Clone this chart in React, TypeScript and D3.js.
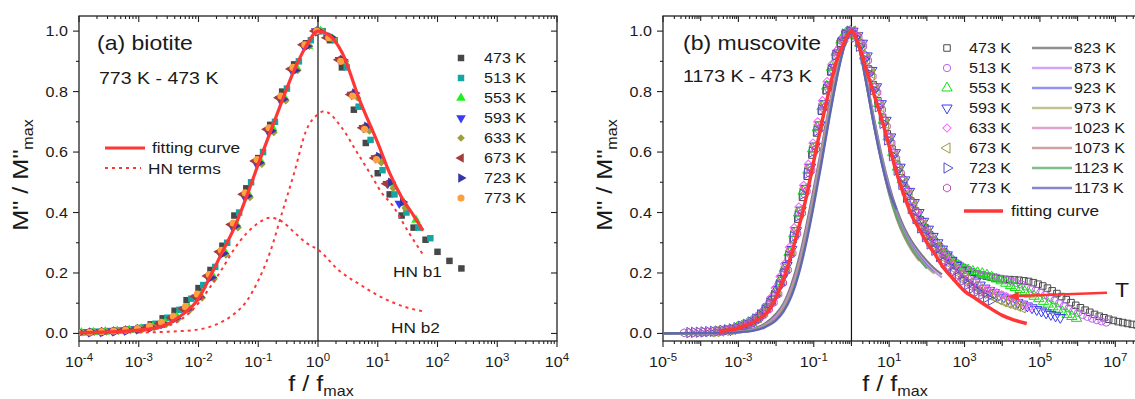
import React from 'react';
import * as d3 from 'd3';

const SX = 1.15;
const FONT = '"Liberation Sans", Arial, Helvetica, sans-serif';
const INK = '#1a1a1a';
const RED = '#FF3636';

// ---------------- shared axis data
const Y_MAJOR = [0, 0.2, 0.4, 0.6, 0.8, 1.0];
const Y_LABELS = ['0.0', '0.2', '0.4', '0.6', '0.8', '1.0'];
const Y_MINOR = [0.1, 0.3, 0.5, 0.7, 0.9];

// ---------------- panel (a) biotite
const A_DECADES = [-4, -3, -2, -1, 0, 1, 2, 3, 4];
const A_LABELED = [-4, -3, -2, -1, 0, 1, 2, 3, 4];
const A_TEMPS = ['473 K', '513 K', '553 K', '593 K', '633 K', '673 K', '723 K', '773 K'];
const A_COLORS = ['#474747', '#14A5A5', '#1EF01E', '#3B3BF5', '#9E9E3C', '#A53C3C', '#3535A8', '#FFA040'];
const A_SHAPES = ['square', 'square', 'triUp', 'triDown', 'diamond', 'triLeft', 'triRight', 'circle'];
// measurement grid, log10(f/fmax) before per-temperature shift
const A_GRID = [-4.0, -3.8, -3.6, -3.4, -3.2, -3.0, -2.8, -2.6, -2.4, -2.2, -2.0, -1.8, -1.6, -1.4, -1.2, -1.0, -0.8, -0.6, -0.4, -0.2, 0.0, 0.2, 0.4, 0.6, 0.8, 1.0, 1.2, 1.4, 1.6, 1.8, 2.0, 2.2, 2.4];
const A_SHIFT = [0, 0.08, 0.04, -0.04, 0.06, -0.06, 0.02, -0.02];
const A_473 = [0.004, 0.005, 0.007, 0.009, 0.013, 0.018, 0.03, 0.05, 0.075, 0.11, 0.15, 0.21, 0.29, 0.39, 0.48, 0.58, 0.69, 0.80, 0.89, 0.96, 1.0, 0.97, 0.88, 0.74, 0.63, 0.53, 0.46, 0.39, 0.35, 0.31, 0.27, 0.24, 0.215];
const A_513 = [0.004, 0.006, 0.008, 0.01, 0.014, 0.02, 0.032, 0.052, 0.078, 0.115, 0.16, 0.22, 0.3, 0.4, 0.5, 0.6, 0.7, 0.81, 0.9, 0.97, 1.0, 0.97, 0.88, 0.75, 0.64, 0.54, 0.46, 0.40, 0.35, 0.315];
const A_553 = [0.003, 0.004, 0.006, 0.008, 0.011, 0.015, 0.022, 0.035, 0.055, 0.085, 0.125, 0.19, 0.27, 0.36, 0.46, 0.57, 0.68, 0.78, 0.88, 0.95, 1.0, 0.975, 0.9, 0.785, 0.68, 0.58, 0.495, 0.43, 0.375];
const A_593 = [0.003, 0.004, 0.005, 0.007, 0.01, 0.014, 0.02, 0.032, 0.05, 0.08, 0.12, 0.185, 0.265, 0.355, 0.455, 0.565, 0.67, 0.775, 0.87, 0.95, 1.0, 0.98, 0.905, 0.79, 0.68, 0.58, 0.495, 0.43];
const A_633 = [0.003, 0.004, 0.005, 0.007, 0.01, 0.013, 0.019, 0.03, 0.048, 0.078, 0.118, 0.18, 0.26, 0.35, 0.45, 0.56, 0.665, 0.77, 0.87, 0.95, 1.0, 0.975, 0.9, 0.78, 0.67, 0.565, 0.48, 0.415];
const A_673 = [0.003, 0.004, 0.006, 0.008, 0.011, 0.015, 0.021, 0.033, 0.052, 0.082, 0.122, 0.19, 0.27, 0.36, 0.46, 0.57, 0.675, 0.78, 0.875, 0.955, 1.0, 0.978, 0.905, 0.79, 0.68, 0.58, 0.495];
const A_723 = [0.003, 0.004, 0.005, 0.007, 0.01, 0.014, 0.02, 0.031, 0.05, 0.08, 0.12, 0.185, 0.265, 0.355, 0.455, 0.565, 0.67, 0.775, 0.87, 0.95, 1.0, 0.98, 0.905, 0.795, 0.685, 0.585, 0.5, 0.435];
const A_773 = [0.003, 0.004, 0.006, 0.008, 0.011, 0.016, 0.024, 0.037, 0.057, 0.088, 0.13, 0.195, 0.275, 0.365, 0.465, 0.575, 0.68, 0.785, 0.88, 0.955, 1.0, 0.978, 0.9, 0.785, 0.675, 0.575];
const A_SERIES = [A_473, A_513, A_553, A_593, A_633, A_673, A_723, A_773];

const A_FIT_LOG = [-4, -3.5, -3, -2.6, -2.3, -2.0, -1.8, -1.6, -1.4, -1.2, -1.0, -0.8, -0.6, -0.4, -0.2, 0, 0.2, 0.4, 0.7, 1.0, 1.2, 1.4, 1.6, 1.76];
const A_FIT_VAL = [0.002, 0.005, 0.011, 0.025, 0.058, 0.115, 0.19, 0.27, 0.35, 0.45, 0.56, 0.665, 0.77, 0.87, 0.95, 1.0, 0.985, 0.93, 0.77, 0.63, 0.53, 0.45, 0.39, 0.34];
const A_HN1_LOG = [-3.0, -2.5, -2.0, -1.7, -1.4, -1.2, -1.0, -0.8, -0.6, -0.4, -0.2, 0.0, 0.1, 0.4, 0.65, 0.9, 1.05, 1.26, 1.5, 1.76];
const A_HN1_VAL = [0.003, 0.006, 0.013, 0.03, 0.065, 0.105, 0.175, 0.27, 0.40, 0.53, 0.67, 0.725, 0.735, 0.68, 0.60, 0.52, 0.47, 0.42, 0.34, 0.26];
const A_HN2_LOG = [-4, -3.5, -3, -2.6, -2.3, -2.0, -1.8, -1.6, -1.4, -1.2, -1.0, -0.8, -0.6, -0.4, -0.2, 0, 0.37, 0.7, 1.04, 1.42, 1.76];
const A_HN2_VAL = [0.002, 0.004, 0.009, 0.02, 0.045, 0.10, 0.155, 0.215, 0.28, 0.33, 0.365, 0.383, 0.37, 0.335, 0.30, 0.277, 0.205, 0.162, 0.122, 0.09, 0.073];

// ---------------- panel (b) muscovite
const B_DECADES = [-5, -4, -3, -2, -1, 0, 1, 2, 3, 4, 5, 6, 7, 8];
const B_LABELED = [-5, -3, -1, 1, 3, 5, 7];
const B_TEMPS = ['473 K', '513 K', '553 K', '593 K', '633 K', '673 K', '723 K', '773 K'];
const B_COLORS = ['#4A4A4A', '#C060F0', '#10E010', '#3A3AF0', '#FF60FF', '#9A9A40', '#5050C0', '#C050B8'];
const B_SHAPES = ['square', 'circle', 'triUp', 'triDown', 'diamond', 'triLeft', 'triRight', 'hexagon'];
// measurement grid, log10(f/fmax) before per-temperature shift
const B_GRID = [
  -4.5, -4.375, -4.25, -4.125, -4, -3.875, -3.75, -3.625, -3.5, -3.375, -3.25, -3.125, -3, -2.875, -2.75, -2.625,
  -2.5, -2.375, -2.25, -2.125, -2, -1.875, -1.75, -1.625, -1.5, -1.375, -1.25, -1.125, -1, -0.875, -0.75, -0.625,
  -0.5, -0.375, -0.25, -0.125, 0, 0.125, 0.25, 0.375, 0.5, 0.625, 0.75, 0.875, 1, 1.125, 1.25, 1.375,
  1.5, 1.625, 1.75, 1.875, 2, 2.125, 2.25, 2.375, 2.5, 2.625, 2.75, 2.875, 3, 3.125, 3.25, 3.375,
  3.5, 3.625, 3.75, 3.875, 4, 4.125, 4.25, 4.375, 4.5, 4.625, 4.75, 4.875, 5, 5.125, 5.25, 5.375,
  5.5, 5.625, 5.75, 5.875, 6, 6.125, 6.25, 6.375, 6.5, 6.625, 6.75, 6.875, 7, 7.125, 7.25, 7.375,
  7.5, 7.625, 7.75,
];
const B_START = [16, 14, 12, 10, 8, 6, 2, 0];
const B_SHIFT = [-0.05, 0.01, -0.03, 0.04, -0.02, 0.03, -0.04, 0.06];
const B_473 = [0.045, 0.058, 0.075, 0.098, 0.125, 0.16, 0.2, 0.25, 0.31, 0.378, 0.45, 0.52, 0.59, 0.663, 0.735, 0.803, 0.865, 0.918, 0.96, 0.99, 1.0, 0.985, 0.96, 0.92, 0.875, 0.823, 0.77, 0.715, 0.66, 0.61, 0.56, 0.515, 0.475, 0.438, 0.405, 0.376, 0.35, 0.326, 0.305, 0.287, 0.27, 0.254, 0.24, 0.228, 0.218, 0.21, 0.203, 0.197, 0.193, 0.189, 0.186, 0.183, 0.181, 0.179, 0.178, 0.177, 0.176, 0.174, 0.172, 0.168, 0.163, 0.157, 0.15, 0.141, 0.132, 0.122, 0.112, 0.102, 0.093, 0.085, 0.077, 0.07, 0.063, 0.057, 0.052, 0.047, 0.043, 0.039, 0.036, 0.033, 0.03, 0.028, 0.026];
const B_513 = [0.03, 0.038, 0.048, 0.062, 0.08, 0.102, 0.13, 0.167, 0.21, 0.262, 0.32, 0.388, 0.46, 0.53, 0.6, 0.673, 0.745, 0.81, 0.87, 0.922, 0.965, 0.992, 1.0, 0.985, 0.96, 0.918, 0.87, 0.816, 0.76, 0.705, 0.65, 0.598, 0.55, 0.508, 0.47, 0.433, 0.4, 0.371, 0.345, 0.322, 0.3, 0.282, 0.265, 0.249, 0.235, 0.224, 0.215, 0.207, 0.2, 0.196, 0.192, 0.19, 0.187, 0.184, 0.18, 0.176, 0.172, 0.167, 0.162, 0.155, 0.148, 0.142, 0.135, 0.127, 0.118, 0.109, 0.1, 0.091, 0.083, 0.075, 0.068, 0.061, 0.055, 0.049, 0.044, 0.04, 0.036];
const B_553 = [0.02, 0.025, 0.03, 0.039, 0.05, 0.064, 0.082, 0.105, 0.135, 0.172, 0.215, 0.268, 0.33, 0.398, 0.47, 0.54, 0.61, 0.68, 0.75, 0.818, 0.88, 0.93, 0.97, 0.993, 1.0, 0.985, 0.96, 0.918, 0.87, 0.816, 0.76, 0.705, 0.65, 0.598, 0.55, 0.508, 0.47, 0.433, 0.4, 0.371, 0.345, 0.322, 0.3, 0.282, 0.265, 0.249, 0.235, 0.224, 0.215, 0.21, 0.205, 0.201, 0.198, 0.193, 0.186, 0.18, 0.174, 0.166, 0.158, 0.152, 0.145, 0.138, 0.13, 0.123, 0.115, 0.106, 0.097, 0.088, 0.08, 0.071, 0.063, 0.056, 0.05];
const B_593 = [0.012, 0.016, 0.02, 0.025, 0.032, 0.041, 0.052, 0.068, 0.088, 0.113, 0.145, 0.182, 0.225, 0.278, 0.34, 0.408, 0.48, 0.55, 0.62, 0.69, 0.76, 0.822, 0.88, 0.928, 0.97, 0.993, 1.0, 0.985, 0.96, 0.918, 0.87, 0.816, 0.76, 0.705, 0.65, 0.598, 0.55, 0.508, 0.47, 0.433, 0.4, 0.371, 0.345, 0.321, 0.3, 0.279, 0.26, 0.242, 0.225, 0.209, 0.195, 0.182, 0.17, 0.16, 0.15, 0.142, 0.135, 0.127, 0.12, 0.114, 0.108, 0.102, 0.097, 0.091, 0.085, 0.079, 0.074, 0.068, 0.063, 0.058, 0.053];
const B_633 = [0.008, 0.01, 0.012, 0.016, 0.021, 0.027, 0.034, 0.043, 0.055, 0.07, 0.09, 0.117, 0.15, 0.188, 0.23, 0.285, 0.35, 0.418, 0.49, 0.56, 0.63, 0.7, 0.77, 0.833, 0.89, 0.935, 0.97, 0.993, 1.0, 0.985, 0.96, 0.918, 0.87, 0.816, 0.76, 0.705, 0.65, 0.598, 0.55, 0.508, 0.47, 0.433, 0.4, 0.369, 0.34, 0.317, 0.295, 0.274, 0.255, 0.24, 0.225, 0.21, 0.195, 0.182, 0.17, 0.16, 0.15, 0.145, 0.14, 0.134, 0.128, 0.122, 0.115, 0.108, 0.1, 0.094, 0.088];
const B_673 = [0.005, 0.006, 0.008, 0.01, 0.012, 0.016, 0.02, 0.025, 0.032, 0.041, 0.052, 0.067, 0.085, 0.11, 0.14, 0.177, 0.22, 0.275, 0.34, 0.408, 0.48, 0.55, 0.62, 0.69, 0.76, 0.822, 0.88, 0.928, 0.97, 0.993, 1.0, 0.98, 0.95, 0.908, 0.86, 0.806, 0.75, 0.695, 0.64, 0.588, 0.54, 0.498, 0.46, 0.424, 0.39, 0.359, 0.33, 0.307, 0.285, 0.264, 0.245, 0.227, 0.21, 0.195, 0.18, 0.167, 0.155, 0.145, 0.135, 0.127, 0.12, 0.112, 0.105, 0.1, 0.095, 0.09, 0.085];
const B_723 = [0.003, 0.0035, 0.004, 0.005, 0.006, 0.007, 0.008, 0.01, 0.012, 0.015, 0.019, 0.024, 0.03, 0.038, 0.048, 0.061, 0.078, 0.1, 0.125, 0.16, 0.2, 0.255, 0.32, 0.388, 0.46, 0.53, 0.6, 0.67, 0.74, 0.808, 0.87, 0.92, 0.96, 0.99, 1.0, 0.98, 0.95, 0.908, 0.86, 0.806, 0.75, 0.695, 0.64, 0.588, 0.54, 0.493, 0.45, 0.413, 0.38, 0.349, 0.32, 0.296, 0.275, 0.254, 0.235, 0.22, 0.205, 0.19, 0.175, 0.162, 0.15, 0.139, 0.128, 0.119, 0.11];
const B_773 = [0.002, 0.0025, 0.003, 0.0035, 0.004, 0.005, 0.006, 0.0075, 0.009, 0.011, 0.013, 0.016, 0.02, 0.025, 0.032, 0.04, 0.05, 0.063, 0.08, 0.102, 0.13, 0.167, 0.21, 0.265, 0.33, 0.398, 0.47, 0.54, 0.61, 0.68, 0.75, 0.818, 0.88, 0.93, 0.97, 0.993, 1.0, 0.98, 0.95, 0.903, 0.85, 0.797, 0.74, 0.685, 0.63, 0.578, 0.53, 0.483, 0.44, 0.403, 0.37, 0.338, 0.31, 0.286, 0.265, 0.244, 0.225, 0.209, 0.195, 0.182, 0.17, 0.157, 0.145, 0.137, 0.13];
const B_SERIES = [B_473, B_513, B_553, B_593, B_633, B_673, B_723, B_773];

const L_TEMPS = ['823 K', '873 K', '923 K', '973 K', '1023 K', '1073 K', '1123 K', '1173 K'];
const L_COLORS = ['#6A6A6A', '#C088F8', '#6E6EEA', '#AEAE6C', '#D484C4', '#C08282', '#56A866', '#5E5EC0'];
const L_GRID = [-5, -4, -3.5, -3, -2.6, -2.3, -2.0, -1.8, -1.6, -1.4, -1.2, -1.0, -0.8, -0.6, -0.4, -0.2, 0, 0.2, 0.4, 0.6, 0.8, 1.0, 1.2, 1.4, 1.6, 1.8, 2.0, 2.2, 2.4];
const L_823 = [0, 0.001, 0.003, 0.007, 0.016, 0.032, 0.065, 0.1, 0.16, 0.245, 0.355, 0.48, 0.61, 0.745, 0.865, 0.955, 1.0, 0.95, 0.84, 0.71, 0.59, 0.49, 0.41, 0.35, 0.305, 0.27, 0.24, 0.215, 0.195];
const L_873 = [0, 0.001, 0.002, 0.006, 0.014, 0.028, 0.058, 0.092, 0.148, 0.23, 0.34, 0.465, 0.6, 0.735, 0.86, 0.955, 1.0, 0.95, 0.835, 0.705, 0.585, 0.48, 0.4, 0.34, 0.295, 0.26, 0.23, 0.205, 0.185];
const L_923 = [0, 0.001, 0.002, 0.005, 0.012, 0.025, 0.052, 0.085, 0.138, 0.218, 0.325, 0.45, 0.585, 0.725, 0.85, 0.95, 1.0, 0.95, 0.83, 0.7, 0.58, 0.475, 0.395, 0.335, 0.29, 0.255, 0.225, 0.2];
const L_973 = [0, 0.001, 0.002, 0.005, 0.012, 0.026, 0.054, 0.088, 0.142, 0.222, 0.33, 0.455, 0.59, 0.73, 0.855, 0.952, 1.0, 0.948, 0.83, 0.695, 0.575, 0.47, 0.39, 0.33, 0.285, 0.25, 0.22, 0.198];
const L_1023 = [0, 0.001, 0.002, 0.005, 0.011, 0.024, 0.05, 0.082, 0.134, 0.212, 0.318, 0.442, 0.578, 0.72, 0.848, 0.95, 1.0, 0.948, 0.828, 0.69, 0.57, 0.465, 0.385, 0.325, 0.28, 0.245, 0.218];
const L_1073 = [0, 0.001, 0.002, 0.004, 0.01, 0.022, 0.047, 0.078, 0.128, 0.205, 0.31, 0.435, 0.57, 0.712, 0.842, 0.948, 1.0, 0.945, 0.822, 0.685, 0.565, 0.46, 0.38, 0.32, 0.275, 0.24];
const L_1123 = [0, 0.001, 0.002, 0.004, 0.01, 0.022, 0.046, 0.076, 0.125, 0.2, 0.305, 0.43, 0.565, 0.708, 0.84, 0.946, 1.0, 0.946, 0.825, 0.69, 0.57, 0.465, 0.385, 0.325, 0.28, 0.245, 0.215];
const L_1173 = [0, 0.001, 0.002, 0.004, 0.009, 0.02, 0.043, 0.072, 0.12, 0.195, 0.298, 0.422, 0.558, 0.702, 0.836, 0.944, 1.0, 0.944, 0.822, 0.685, 0.565, 0.47, 0.41];
const L_SERIES = [L_823, L_873, L_923, L_973, L_1023, L_1073, L_1123, L_1173];

const B_FIT_LOG = [-3.5, -3.0, -2.5, -2.2, -2.0, -1.8, -1.6, -1.4, -1.2, -1.0, -0.8, -0.6, -0.4, -0.2, 0, 0.2, 0.4, 0.6, 0.8, 1.0, 1.2, 1.4, 1.6, 1.8, 2.0, 2.2, 2.4, 2.7, 3.0, 3.3, 3.6, 4.0, 4.3, 4.65];
const B_FIT_VAL = [0.007, 0.018, 0.045, 0.075, 0.12, 0.18, 0.26, 0.35, 0.45, 0.57, 0.69, 0.80, 0.90, 0.96, 1.0, 0.95, 0.87, 0.79, 0.71, 0.62, 0.53, 0.455, 0.39, 0.345, 0.30, 0.265, 0.225, 0.18, 0.14, 0.115, 0.09, 0.06, 0.045, 0.033];
// arrow "T" in data units: [log10(f/fmax), M''/M''max]
const T_ARROW_FROM = [6.78, 0.135];
const T_ARROW_TO = [4.15, 0.122];

// ---------------- geometry
const TOP = 16;
const BOT = 341;
const A_X0 = 79, A_X1 = 557;
const B_X0 = 663, B_X1 = 1153;
const xA = d3.scaleLog().domain([1e-4, 1e4]).range([A_X0, A_X1]);
const xB = d3.scaleLog().domain([1e-5, 1e8]).range([B_X0, B_X1]);
const yS = d3.scaleLinear().domain([-0.025, 1.05]).range([BOT, TOP]);

const T = ({ x, y, size, anchor = 'start', rot = 0, fill = INK, children }: any) => (
  <text
    transform={`translate(${x},${y})${rot ? ` rotate(${rot})` : ''} scale(${SX},1)`}
    fontSize={size}
    textAnchor={anchor}
    fontFamily={FONT}
    fill={fill}
  >
    {children}
  </text>
);

const ROT: Record<string, number> = { triDown: 180, triLeft: -90, triRight: 90, diamond: 45 };

function shapePath(shape: string, size: number): string {
  if (shape === 'circle') return d3.symbol(d3.symbolCircle, size)() as string;
  if (shape === 'square' || shape === 'diamond') return d3.symbol(d3.symbolSquare, size)() as string;
  if (shape === 'hexagon') {
    const r = Math.sqrt(size / 2.6);
    const pts = [0, 1, 2, 3, 4, 5].map((i) => {
      const a = (Math.PI / 3) * i + Math.PI / 6;
      return `${(r * Math.cos(a)).toFixed(2)},${(r * Math.sin(a)).toFixed(2)}`;
    });
    return `M${pts.join('L')}Z`;
  }
  return d3.symbol(d3.symbolTriangle, size)() as string;
}

const Marker = ({ x, y, shape, color, size, open }: any) => (
  <path
    d={shapePath(shape, size)}
    transform={`translate(${x},${y}) rotate(${ROT[shape] || 0})`}
    fill={open ? 'none' : color}
    stroke={open ? color : 'none'}
    strokeWidth={open ? 1 : 0}
  />
);

function Axes({ xs, x0, x1, decades, labeled, yLabelRight }: any) {
  const minor: number[] = [];
  decades.slice(0, -1).forEach((d: number) => {
    [2, 3, 4, 5, 6, 7, 8, 9].forEach((k) => minor.push(d + Math.log10(k)));
  });
  const st = { stroke: '#222', strokeWidth: 1.1 };
  return (
    <g>
      <rect x={x0} y={TOP} width={x1 - x0} height={BOT - TOP} fill="none" stroke="#222" strokeWidth={1.3} />
      {minor.map((m, i) => (
        <g key={'mn' + i}>
          <line x1={xs(10 ** m)} x2={xs(10 ** m)} y1={BOT} y2={BOT + 3} {...st} />
          <line x1={xs(10 ** m)} x2={xs(10 ** m)} y1={TOP} y2={TOP + 3} {...st} />
        </g>
      ))}
      {decades.map((d: number) => {
        const len = labeled.includes(d) ? 6 : 5;
        return (
          <g key={'mj' + d}>
            <line x1={xs(10 ** d)} x2={xs(10 ** d)} y1={BOT} y2={BOT + len} {...st} />
            <line x1={xs(10 ** d)} x2={xs(10 ** d)} y1={TOP} y2={TOP + len} {...st} />
          </g>
        );
      })}
      {labeled.map((d: number) => (
        <T key={'xl' + d} x={xs(10 ** d)} y={367} size={14} anchor="middle">
          10<tspan fontSize={10} dy={-6.5}>{d}</tspan>
        </T>
      ))}
      {Y_MAJOR.map((v, i) => (
        <g key={'ym' + i}>
          <line x1={x0 - 6} x2={x0} y1={yS(v)} y2={yS(v)} {...st} />
          <line x1={x1 - 6} x2={x1} y1={yS(v)} y2={yS(v)} {...st} />
          <T x={yLabelRight} y={yS(v) + 5} size={14} anchor="end">{Y_LABELS[i]}</T>
        </g>
      ))}
      {Y_MINOR.map((v, i) => (
        <g key={'yn' + i}>
          <line x1={x0 - 3} x2={x0} y1={yS(v)} y2={yS(v)} {...st} />
          <line x1={x1 - 3} x2={x1} y1={yS(v)} y2={yS(v)} {...st} />
        </g>
      ))}
      <line x1={xs(1)} x2={xs(1)} y1={TOP} y2={BOT} stroke="#111" strokeWidth={1.2} />
    </g>
  );
}

function curve(xs: any, logs: number[], vals: number[]) {
  const pts: [number, number][] = logs.map((l, i) => [l, vals[i]]);
  return d3
    .line<[number, number]>()
    .x((d) => xs(10 ** d[0]))
    .y((d) => yS(d[1]))
    .curve(d3.curveMonotoneX)(pts) as string;
}

const bSize = (shape: string) => (shape === 'diamond' ? 34 : shape.startsWith('tri') ? 46 : 42);
const aSize = (s: number) => (s < 2 ? 42 : A_SHAPES[s] === 'diamond' ? 30 : 40);

export default function App() {
  const ax0 = xB(10 ** T_ARROW_FROM[0]), ay0 = yS(T_ARROW_FROM[1]);
  const ax1 = xB(10 ** T_ARROW_TO[0]), ay1 = yS(T_ARROW_TO[1]);
  const ang = Math.atan2(ay1 - ay0, ax1 - ax0);
  const hl = 11, hw = 4.5;
  const bx = ax1 - hl * Math.cos(ang), by = ay1 - hl * Math.sin(ang);
  const head = `M${ax1},${ay1}L${bx - hw * Math.sin(ang)},${by + hw * Math.cos(ang)}L${bx + hw * Math.sin(ang)},${by - hw * Math.cos(ang)}Z`;

  return (
    <svg width={1135} height={399} style={{ position: 'absolute', left: 0, top: 0, background: '#fff' }}>
      <defs>
        <clipPath id="clipA"><rect x={A_X0} y={TOP} width={A_X1 - A_X0} height={BOT - TOP} /></clipPath>
        <clipPath id="clipB"><rect x={B_X0} y={TOP} width={B_X1 - B_X0} height={BOT - TOP} /></clipPath>
      </defs>
      <rect x={0} y={0} width={1135} height={399} fill="#fff" />

      {/* ---------- panel (a) ---------- */}
      <Axes xs={xA} x0={A_X0} x1={A_X1} decades={A_DECADES} labeled={A_LABELED} yLabelRight={68} />
      <g clipPath="url(#clipA)">
        {A_SERIES.map((vals, s) => (
          <g key={'as' + s}>
            {vals.map((v, i) => (
              <Marker key={i} x={xA(10 ** (A_GRID[i] + A_SHIFT[s]))} y={yS(v)} shape={A_SHAPES[s]} color={A_COLORS[s]} size={aSize(s)} open={false} />
            ))}
          </g>
        ))}
        <path d={curve(xA, A_HN1_LOG, A_HN1_VAL)} fill="none" stroke={RED} strokeWidth={2} strokeDasharray="3,4" />
        <path d={curve(xA, A_HN2_LOG, A_HN2_VAL)} fill="none" stroke={RED} strokeWidth={2} strokeDasharray="3,4" />
        <path d={curve(xA, A_FIT_LOG, A_FIT_VAL)} fill="none" stroke={RED} strokeWidth={3.2} />
      </g>
      <T x={97} y={50} size={20}>(a) biotite</T>
      <T x={99} y={84} size={17}>773 K - 473 K</T>
      <line x1={105} x2={145} y1={148} y2={148} stroke={RED} strokeWidth={3.2} />
      <T x={152} y={153} size={15}>fitting curve</T>
      <line x1={105} x2={141} y1={168} y2={168} stroke={RED} strokeWidth={2} strokeDasharray="3,4" />
      <T x={148} y={174} size={15}>HN terms</T>
      <T x={393} y={277} size={15}>HN b1</T>
      <T x={391} y={333} size={15}>HN b2</T>
      {A_TEMPS.map((t, s) => (
        <g key={'al' + s}>
          <Marker x={461} y={58 + 20 * s} shape={A_SHAPES[s]} color={A_COLORS[s]} size={aSize(s)} open={false} />
          <T x={484} y={63 + 20 * s} size={14}>{t}</T>
        </g>
      ))}
      <T x={28} y={175} size={22} anchor="middle" rot={-90}>
        M" / M"<tspan fontSize={14} dy={5}>max</tspan>
      </T>
      <T x={321} y={391} size={22} anchor="middle">
        f / f<tspan fontSize={14} dy={5}>max</tspan>
      </T>

      {/* ---------- panel (b) ---------- */}
      <Axes xs={xB} x0={B_X0} x1={B_X1} decades={B_DECADES} labeled={B_LABELED} yLabelRight={652} />
      <g clipPath="url(#clipB)">
        {B_SERIES.map((vals, s) => (
          <g key={'bs' + s}>
            {vals.map((v, i) => (
              <Marker key={i} x={xB(10 ** (B_GRID[B_START[s] + i] + B_SHIFT[s]))} y={yS(v)} shape={B_SHAPES[s]} color={B_COLORS[s]} size={bSize(B_SHAPES[s])} open={true} />
            ))}
          </g>
        ))}
        {L_SERIES.map((vals, s) => (
          <path key={'bl' + s} d={curve(xB, L_GRID.slice(0, vals.length), vals)} fill="none" stroke={L_COLORS[s]} strokeWidth={2.2} strokeOpacity={0.9} />
        ))}
        <path d={curve(xB, B_FIT_LOG, B_FIT_VAL)} fill="none" stroke={RED} strokeWidth={3.5} />
        <line x1={ax0} y1={ay0} x2={bx} y2={by} stroke={RED} strokeWidth={2.5} />
        <path d={head} fill={RED} />
      </g>
      <T x={1115} y={297} size={20}>T</T>
      <T x={683} y={50} size={20}>(b) muscovite</T>
      <T x={683} y={82} size={17}>1173 K - 473 K</T>
      {B_TEMPS.map((t, s) => (
        <g key={'blg' + s}>
          <Marker x={947} y={48 + 20 * s} shape={B_SHAPES[s]} color={B_COLORS[s]} size={bSize(B_SHAPES[s])} open={true} />
          <T x={969} y={53 + 20 * s} size={14}>{t}</T>
        </g>
      ))}
      {L_TEMPS.map((t, s) => (
        <g key={'llg' + s}>
          <line x1={1032} x2={1072} y1={48 + 20 * s} y2={48 + 20 * s} stroke={L_COLORS[s]} strokeWidth={2.5} strokeOpacity={0.75} />
          <T x={1074} y={53 + 20 * s} size={14}>{t}</T>
        </g>
      ))}
      <line x1={964} x2={1003} y1={211} y2={211} stroke={RED} strokeWidth={3.5} />
      <T x={1011} y={216} size={15}>fitting curve</T>
      <T x={612} y={175} size={22} anchor="middle" rot={-90}>
        M" / M"<tspan fontSize={14} dy={5}>max</tspan>
      </T>
      <T x={895} y={391} size={22} anchor="middle">
        f / f<tspan fontSize={14} dy={5}>max</tspan>
      </T>
    </svg>
  );
}
